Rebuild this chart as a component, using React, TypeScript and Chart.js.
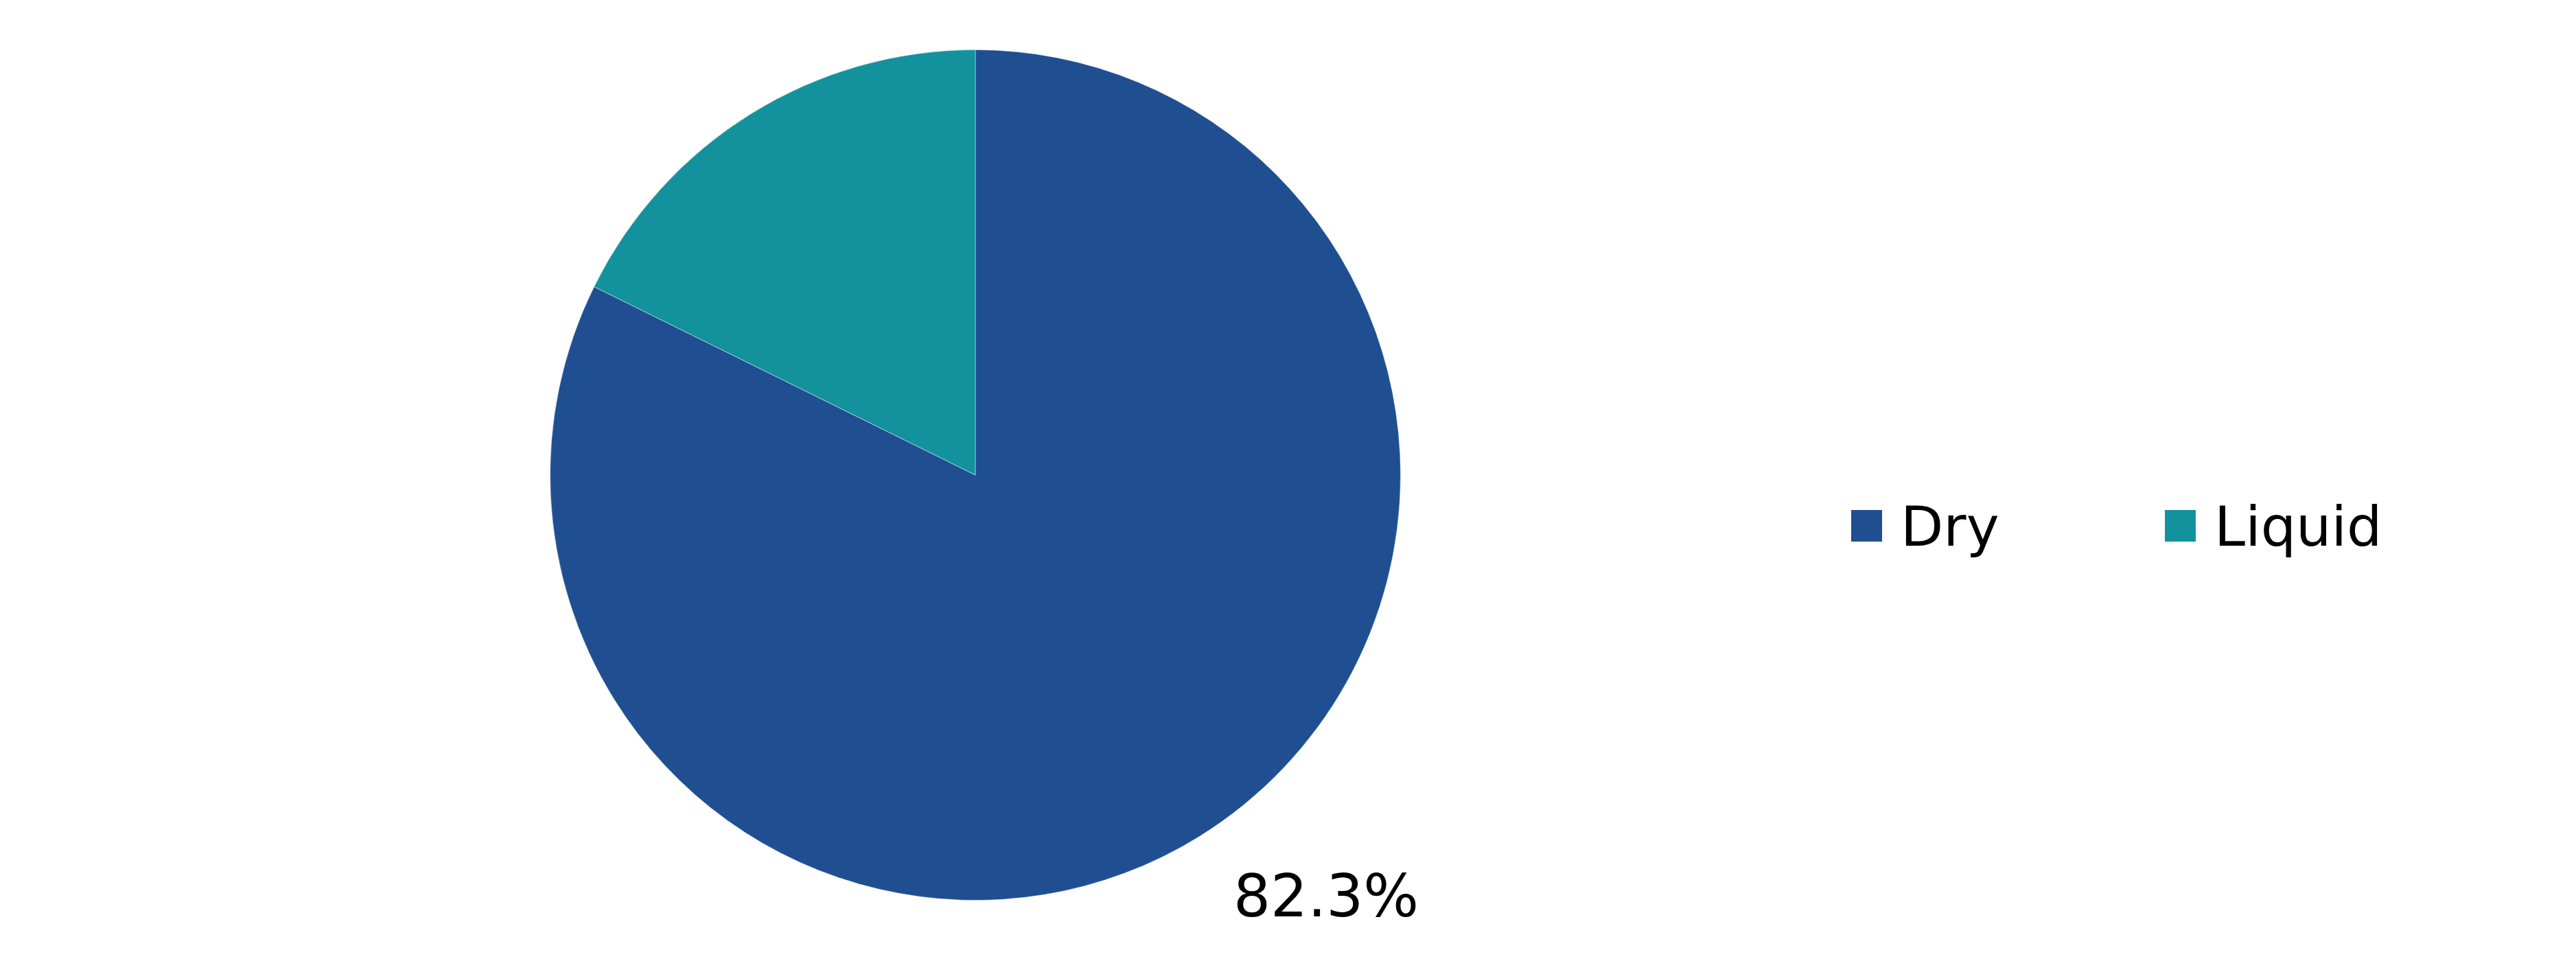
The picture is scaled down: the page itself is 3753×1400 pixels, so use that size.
import React, { useEffect, useRef } from 'react';
import { Chart, registerables } from 'chart.js';

Chart.register(...registerables);

// chart values
const categories = ['Dry', 'Liquid'];
const shares = [82.3, 17.7];
const sliceColors = ['#1f4f91', '#13929e'];
const showValueLabel = [true, false];

const FONT = '"DejaVu Sans", Verdana, sans-serif';

// draws the percentage next to the slice
const valueLabelPlugin = {
  id: 'valueLabels',
  afterDatasetsDraw(chart: any) {
    const ctx = chart.ctx;
    const meta = chart.getDatasetMeta(0);
    ctx.save();
    ctx.font = `85px ${FONT}`;
    ctx.fillStyle = '#000000';
    ctx.textAlign = 'center';
    ctx.textBaseline = 'alphabetic';
    meta.data.forEach((arc: any, i: number) => {
      if (!showValueLabel[i]) return;
      const { x, y, startAngle, endAngle, outerRadius } = arc.getProps(
        ['x', 'y', 'startAngle', 'endAngle', 'outerRadius'],
        true
      );
      const mid = (startAngle + endAngle) / 2 - (8 * Math.PI) / 180;
      const d = outerRadius * 1.287;
      const lx = x + Math.cos(mid) * d;
      const ly = y + Math.sin(mid) * d;
      ctx.fillText(shares[i].toFixed(1) + '%', lx, ly + 31);
    });
    ctx.restore();
  },
};

// horizontal legend to the right of the pie
const sideLegendPlugin = {
  id: 'sideLegend',
  afterDraw(chart: any) {
    const ctx = chart.ctx;
    const itemX = [2697, 3154];
    const midY = 766;
    ctx.save();
    ctx.font = `81px ${FONT}`;
    ctx.textAlign = 'left';
    ctx.textBaseline = 'alphabetic';
    categories.forEach((name, i) => {
      ctx.fillStyle = sliceColors[i];
      ctx.fillRect(itemX[i], midY - 23, 45, 46);
      ctx.fillStyle = '#000000';
      ctx.fillText(name, itemX[i] + 72, midY + 29);
    });
    ctx.restore();
  },
};

const SharePie = () => {
  const chartRef = useRef<HTMLCanvasElement>(null);
  const chartInstanceRef = useRef<Chart>();

  useEffect(() => {
    if (chartRef.current) {
      const ctx = chartRef.current.getContext('2d');
      if (ctx) {
        if (chartInstanceRef.current) {
          chartInstanceRef.current.destroy();
        }

        chartInstanceRef.current = new Chart(ctx, {
          type: 'pie',
          data: {
            labels: categories,
            datasets: [
              {
                data: shares,
                backgroundColor: sliceColors,
                borderColor: 'rgba(255,255,255,0.45)',
                borderWidth: 1,
              },
            ],
          },
          options: {
            animation: false,
            responsive: false,
            maintainAspectRatio: false,
            devicePixelRatio: 1,
            layout: {
              padding: { top: 72, bottom: 88, left: 801, right: 1712 },
            },
            plugins: {
              legend: { display: false },
              tooltip: { enabled: false },
            },
          },
          plugins: [valueLabelPlugin, sideLegendPlugin],
        });
      }
    }

    return () => {
      if (chartInstanceRef.current) {
        chartInstanceRef.current.destroy();
      }
    };
  }, []);

  return (
    <div style={{ position: 'absolute', left: 0, top: 0, width: 3753, height: 1400, background: '#ffffff' }}>
      <canvas ref={chartRef} width={3753} height={1400} style={{ width: 3753, height: 1400 }} />
    </div>
  );
};

export default function App() {
  return <SharePie />;
}
